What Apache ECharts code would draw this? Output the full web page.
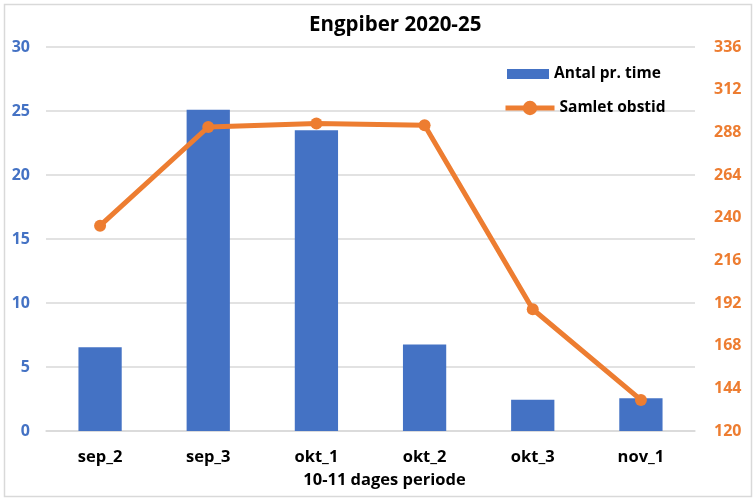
<!DOCTYPE html>
<html>
<head>
<meta charset="utf-8">
<script src="https://cdn.jsdelivr.net/npm/echarts@6/dist/echarts.min.js"></script>
<style>
html,body{margin:0;padding:0;background:#fff;}
#c{width:756px;height:499px;}
</style>
</head>
<body>
<div id="c"></div>
<script>
const categories = ['sep_2','sep_3','okt_1','okt_2','okt_3','nov_1'];
const antalPrTime = [6.55, 25.1, 23.5, 6.75, 2.45, 2.55];
const samletObstid = [235.5, 291, 293, 292, 188.5, 137.5];
const leftTicks = {min:0, max:30, interval:5};
const rightTicks = {min:120, max:336, interval:24};

const chart = echarts.init(document.getElementById('c'));
const FONT = '"Open Sans", "Liberation Sans", sans-serif';
const legendText = {fontFamily: FONT, fontSize: 15.5, fontWeight: 'bold', color: '#000'};
chart.setOption({
  backgroundColor: '#fff',
  animation: false,
  textStyle: {fontFamily: FONT},
  graphic: [{
    type: 'rect', left: 2, top: 2,
    shape: {width: 747, height: 492},
    style: {fill: 'none', stroke: '#D9D9D9', lineWidth: 1.5}
  }],
  title: {
    text: 'Engpiber 2020-25', left: 304, top: 10,
    textStyle: {fontFamily: FONT, fontSize: 20.5, fontWeight: 'bold', color: '#000'}
  },
  legend: [{
    left: 502, top: 61, itemGap: 0,
    itemWidth: 42, itemHeight: 10,
    textStyle: legendText,
    data: [{name: 'Antal pr. time', icon: 'rect'}]
  }, {
    left: 498, top: 95,
    itemWidth: 49, itemHeight: 18,
    textStyle: legendText,
    lineStyle: {width: 5},
    data: [{name: 'Samlet obstid'}]
  }],
  grid: {left: 46, right: 61, top: 47, bottom: 68},
  xAxis: {
    type: 'category', data: categories,
    name: '10-11 dages periode', nameLocation: 'middle', nameGap: 41,
    nameTextStyle: {fontFamily: FONT, fontSize: 16.5, fontWeight: 'bold', color: '#000', padding: [0,0,0,28]},
    axisLine: {lineStyle: {color: '#D9D9D9', width: 1.5}},
    axisTick: {show: false},
    axisLabel: {fontFamily: FONT, fontSize: 16.5, fontWeight: 'bold', color: '#000', margin: 18}
  },
  yAxis: [{
    type: 'value', min: leftTicks.min, max: leftTicks.max, interval: leftTicks.interval,
    axisLine: {show: false}, axisTick: {show: false},
    splitLine: {lineStyle: {color: '#D9D9D9', width: 1.5}},
    axisLabel: {fontFamily: FONT, fontSize: 16, fontWeight: 'bold', color: '#4472C4', margin: 16}
  }, {
    type: 'value', min: rightTicks.min, max: rightTicks.max, interval: rightTicks.interval,
    position: 'right',
    axisLine: {show: false}, axisTick: {show: false},
    splitLine: {show: false},
    axisLabel: {fontFamily: FONT, fontSize: 16, fontWeight: 'bold', color: '#ED7D31', margin: 19}
  }],
  series: [{
    name: 'Antal pr. time', type: 'bar', data: antalPrTime, yAxisIndex: 0,
    barWidth: '40%', itemStyle: {color: '#4472C4'}
  }, {
    name: 'Samlet obstid', type: 'line', data: samletObstid, yAxisIndex: 1,
    symbol: 'circle', symbolSize: 12,
    lineStyle: {color: '#ED7D31', width: 5},
    itemStyle: {color: '#ED7D31'}
  }]
});
</script>
</body>
</html>
